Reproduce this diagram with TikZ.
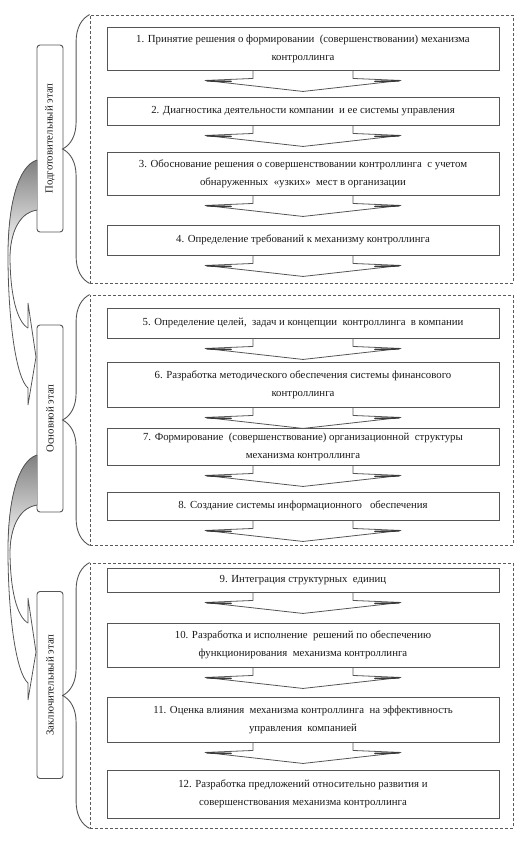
\documentclass[tikz,border=0pt]{standalone}
\usepackage{fontspec}
\setmainfont{Liberation Serif}
\usetikzlibrary{calc,decorations.pathreplacing}
\definecolor{boxc}{HTML}{555555}
\definecolor{dashc}{HTML}{5A5A5A}
\definecolor{shade}{HTML}{D4D4D4}
\begin{document}
\begin{tikzpicture}[x=1pt,y=-1pt,
  stepbox/.style={draw=boxc, line width=0.9pt, minimum width=392pt, inner sep=0pt, align=center, text=black!90,
     font=\fontsize{10.8}{18}\selectfont},
  grp/.style={draw=dashc, dash pattern=on 3pt off 2pt, line width=0.8pt, inner sep=0pt},
  lbl/.style={draw=boxc, line width=0.9pt, rounded corners=3pt, rotate=90, minimum width=187pt, minimum height=26pt,
     inner sep=0pt, text=black!90, font=\fontsize{10.8}{12}\selectfont},
  flow/.style={draw=boxc, line width=0.8pt, line join=round},
  bracestyle/.style={draw=boxc, line width=0.9pt, decorate, decoration={brace, amplitude=27pt}},
  curvearr/.style={draw=boxc, line width=0.8pt}
]
\useasboundingbox (0,0) rectangle (525,844);
% groups
\node[grp, minimum width=423pt, minimum height=268pt] (g1) at (301.5,149) {};
\node[grp, minimum width=423pt, minimum height=250pt] (g2) at (301.5,420) {};
\node[grp, minimum width=423pt, minimum height=265pt] (g3) at (301.5,695.5) {};
% steps
\node[stepbox, minimum height=43pt] (b1) at (303,48.5) {1. Принятие решения о формировании \ (совершенствовании) механизма\\контроллинга};
\node[stepbox, minimum height=28pt] (b2) at (303,111) {2. Диагностика деятельности компании \ и ее системы управления};
\node[stepbox, minimum height=43pt] (b3) at (303,173.5) {3. Обоснование решения о совершенствовании контроллинга \ с учетом\\обнаруженных \ «узких» \ мест в организации};
\node[stepbox, minimum height=30pt] (b4) at (303,240) {4. Определение требований к механизму контроллинга};
\node[stepbox, minimum height=30pt] (b5) at (303,323) {5. Определение целей, \ задач и концепции \ контроллинга \ в компании};
\node[stepbox, minimum height=45pt] (b6) at (303,384.5) {6. Разработка методического обеспечения системы финансового\\контроллинга};
\node[stepbox, minimum height=37pt] (b7) at (303,446.5) {7. Формирование \ (совершенствование) организационной \ структуры\\механизма контроллинга};
\node[stepbox, minimum height=28pt] (b8) at (303,506) {8. Создание системы информационного \ \ обеспечения};
\node[stepbox, minimum height=24pt] (b9) at (303,580) {9. Интеграция структурных \ единиц};
\node[stepbox, minimum height=44pt] (b10) at (303,645) {10. Разработка и исполнение \ решений по обеспечению\\функционирования \ механизма контроллинга};
\node[stepbox, minimum height=45pt] (b11) at (303,719.5) {11. Оценка влияния \ механизма контроллинга \ на эффективность\\управления \ компанией};
\node[stepbox, minimum height=48pt] (b12) at (303,794) {12. Разработка предложений относительно развития и\\совершенствования механизма контроллинга};
% flow arrows
\foreach \b in {b1,b2,b3,b4,b5,b6,b7,b8,b9,b10,b11}{
  \draw[flow] ($(\b.south)+(-50,0)$) -- ++(0,8) -- ++(-48,2) -- ($(\b.south)+(0,21)$)
     -- ($(\b.south)+(98,10)$) -- ++(-48,-2) -- ++(0,-8);
  \draw[boxc!70!black, line width=1.6pt, line cap=round] ($(\b.south)+(-96,10.4)$) -- ($(\b.south)+(-72,11)$);
  \draw[boxc!70!black, line width=1.6pt, line cap=round] ($(\b.south)+(96,10.4)$) -- ($(\b.south)+(72,11)$);
}
% stage labels
\node[lbl] (l1) at (50,138.5) {Подготовительный этап};
\node[lbl] (l2) at (50,418.5) {Основной этап};
\node[lbl] (l3) at (50,685) {Заключительный этап};
% braces
\draw[bracestyle] (g1.south west) -- (g1.north west);
\draw[bracestyle] (g2.south west) -- (g2.north west);
\draw[bracestyle] (g3.south west) -- (g3.north west);
% curved arrows between stage labels
\foreach \dy in {0,295}{
\begin{scope}[shift={(0,\dy)}]
  \fill[shade] (37,160) .. controls (18,166) and (8,205) .. (8,255)
     -- (10,255) .. controls (11,228) and (22,212) .. (37,210) -- cycle;
  \draw[curvearr] (37,160) .. controls (18,166) and (8,205) .. (8,255)
     .. controls (8,320) and (16,378) .. (28,388);
  \draw[curvearr] (37,210) .. controls (22,212) and (11,228) .. (10,255)
     .. controls (10,295) and (17,322) .. (28,328);
  \draw[curvearr, line join=miter] (28,328) -- (28,303) -- (36,357) -- (28,405) -- (28,388);
\end{scope}
}
\end{tikzpicture}
\end{document}
